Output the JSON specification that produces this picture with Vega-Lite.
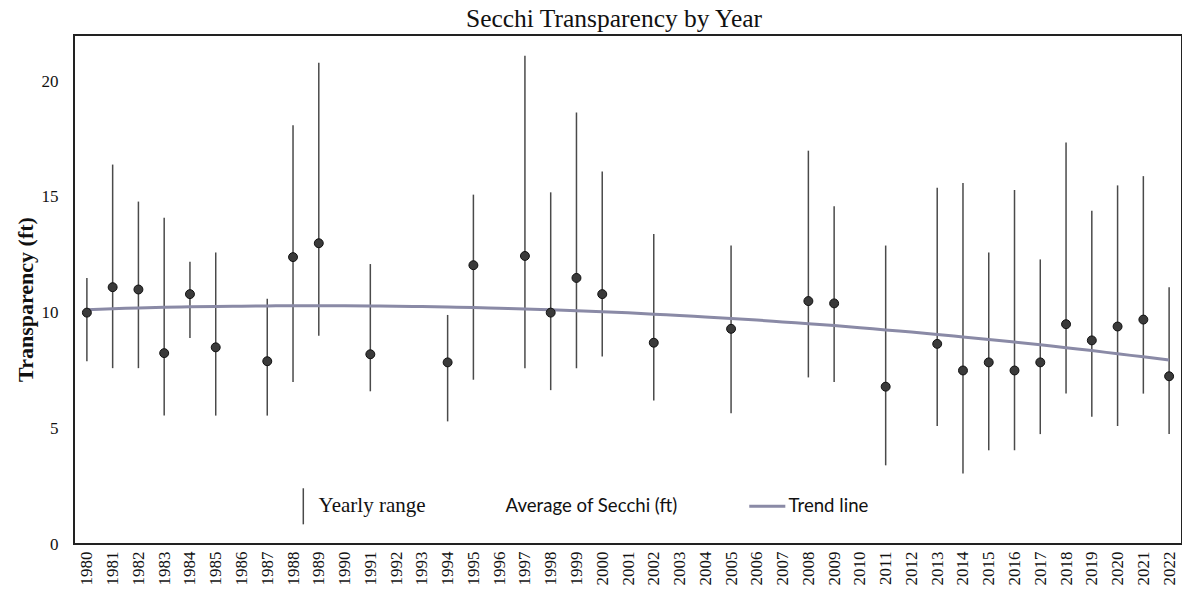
{
  "$schema": "https://vega.github.io/schema/vega-lite/v6.json",
  "autosize": {"type": "none"},
  "padding": {"left": 74, "top": 35, "right": 0, "bottom": 46},
  "width": 1108,
  "height": 509,
  "background": "white",
  "title": {"text": "Secchi Transparency by Year", "font": "Liberation Serif", "fontSize": 25.5, "fontWeight": "normal", "color": "#111", "anchor": "middle", "dx": -14, "offset": 3},
  "config": {
    "view": {"stroke": "#222", "strokeWidth": 2},
    "axis": {"grid": false, "ticks": false, "tickSize": 0, "domain": false, "labelColor": "#111", "titleColor": "#111"}
  },
  "datasets": {
    "obs": [
      {"year": 1980, "avg": 10.0, "min": 7.9, "max": 11.5},
      {"year": 1981, "avg": 11.1, "min": 7.6, "max": 16.4},
      {"year": 1982, "avg": 11.0, "min": 7.6, "max": 14.8},
      {"year": 1983, "avg": 8.25, "min": 5.55, "max": 14.1},
      {"year": 1984, "avg": 10.8, "min": 8.9, "max": 12.2},
      {"year": 1985, "avg": 8.5, "min": 5.55, "max": 12.6},
      {"year": 1987, "avg": 7.9, "min": 5.55, "max": 10.6},
      {"year": 1988, "avg": 12.4, "min": 7.0, "max": 18.1},
      {"year": 1989, "avg": 13.0, "min": 9.0, "max": 20.8},
      {"year": 1991, "avg": 8.2, "min": 6.6, "max": 12.1},
      {"year": 1994, "avg": 7.85, "min": 5.3, "max": 9.9},
      {"year": 1995, "avg": 12.05, "min": 7.1, "max": 15.1},
      {"year": 1997, "avg": 12.45, "min": 7.6, "max": 21.1},
      {"year": 1998, "avg": 10.0, "min": 6.65, "max": 15.2},
      {"year": 1999, "avg": 11.5, "min": 7.6, "max": 18.65},
      {"year": 2000, "avg": 10.8, "min": 8.1, "max": 16.1},
      {"year": 2002, "avg": 8.7, "min": 6.2, "max": 13.4},
      {"year": 2005, "avg": 9.3, "min": 5.65, "max": 12.9},
      {"year": 2008, "avg": 10.5, "min": 7.2, "max": 17.0},
      {"year": 2009, "avg": 10.4, "min": 7.0, "max": 14.6},
      {"year": 2011, "avg": 6.8, "min": 3.4, "max": 12.9},
      {"year": 2013, "avg": 8.65, "min": 5.1, "max": 15.4},
      {"year": 2014, "avg": 7.5, "min": 3.05, "max": 15.6},
      {"year": 2015, "avg": 7.85, "min": 4.05, "max": 12.6},
      {"year": 2016, "avg": 7.5, "min": 4.05, "max": 15.3},
      {"year": 2017, "avg": 7.85, "min": 4.75, "max": 12.3},
      {"year": 2018, "avg": 9.5, "min": 6.5, "max": 17.35},
      {"year": 2019, "avg": 8.8, "min": 5.5, "max": 14.4},
      {"year": 2020, "avg": 9.4, "min": 5.1, "max": 15.5},
      {"year": 2021, "avg": 9.7, "min": 6.5, "max": 15.9},
      {"year": 2022, "avg": 7.25, "min": 4.75, "max": 11.1}
    ],
    "trend": [
      {"year": 1980, "trend": 10.13}, {"year": 1981, "trend": 10.17}, {"year": 1982, "trend": 10.2},
      {"year": 1983, "trend": 10.23}, {"year": 1984, "trend": 10.25}, {"year": 1985, "trend": 10.27},
      {"year": 1986, "trend": 10.28}, {"year": 1987, "trend": 10.29}, {"year": 1988, "trend": 10.3},
      {"year": 1989, "trend": 10.3}, {"year": 1990, "trend": 10.3}, {"year": 1991, "trend": 10.29},
      {"year": 1992, "trend": 10.28}, {"year": 1993, "trend": 10.26}, {"year": 1994, "trend": 10.24},
      {"year": 1995, "trend": 10.22}, {"year": 1996, "trend": 10.19}, {"year": 1997, "trend": 10.16},
      {"year": 1998, "trend": 10.12}, {"year": 1999, "trend": 10.08}, {"year": 2000, "trend": 10.04},
      {"year": 2001, "trend": 9.99}, {"year": 2002, "trend": 9.93}, {"year": 2003, "trend": 9.88},
      {"year": 2004, "trend": 9.81}, {"year": 2005, "trend": 9.75}, {"year": 2006, "trend": 9.68},
      {"year": 2007, "trend": 9.6}, {"year": 2008, "trend": 9.52}, {"year": 2009, "trend": 9.44},
      {"year": 2010, "trend": 9.35}, {"year": 2011, "trend": 9.25}, {"year": 2012, "trend": 9.16},
      {"year": 2013, "trend": 9.06}, {"year": 2014, "trend": 8.95}, {"year": 2015, "trend": 8.84},
      {"year": 2016, "trend": 8.73}, {"year": 2017, "trend": 8.61}, {"year": 2018, "trend": 8.48},
      {"year": 2019, "trend": 8.36}, {"year": 2020, "trend": 8.22}, {"year": 2021, "trend": 8.09},
      {"year": 2022, "trend": 7.95}
    ]
  },
  "encoding": {
    "x": {
      "field": "year", "type": "ordinal", "sort": "ascending",
      "scale": {"type": "point", "padding": 0.5},
      "axis": {"title": null, "labelAngle": -90, "labelFont": "Liberation Serif", "labelFontSize": 17, "labelPadding": 7}
    }
  },
  "layer": [
    {
      "data": {"name": "obs"},
      "mark": {"type": "rule", "strokeWidth": 1.5},
      "encoding": {
        "y": {"field": "min", "type": "quantitative",
          "scale": {"domain": [0, 22], "nice": false},
          "axis": {"values": [0, 5, 10, 15, 20], "title": "Transparency (ft)", "titleFont": "Liberation Serif", "titleFontSize": 22, "titleFontWeight": "bold", "titlePadding": 4, "titleY": 264, "labelFont": "Liberation Serif", "labelFontSize": 17, "labelPadding": 16}},
        "y2": {"field": "max"},
        "color": {"datum": "Yearly range", "type": "nominal",
          "scale": {"domain": ["Yearly range", "Average of Secchi (ft)", "Trend line"], "range": ["#4a4a4a", "#3a3a3a", "#8a8aa6"]},
          "legend": {
            "title": null, "orient": "none", "legendX": 220, "legendY": 462, "direction": "horizontal", "columns": 3,
            "gridAlign": "none", "columnPadding": 46, "padding": 0, "symbolSize": 1300, "labelOffset": 6, "labelLimit": 0,
            "labelFontSize": 18, "labelColor": "#111", "labelFont": "Liberation Serif",
            "labelExpr": "datum.label == 'Average of Secchi (ft)' ? datum.label + '\u2009\u2009\u2800' : datum.label",
            "encode": {
              "symbols": {"update": {
                "shape": {"signal": "datum.value == 'Yearly range' ? 'M0,-1L0,1' : datum.value == 'Trend line' ? 'M-1,0L1,0' : 'circle'"},
                "stroke": {"signal": "datum.value == 'Yearly range' ? '#4a4a4a' : '#8a8aa6'"},
                "strokeWidth": {"signal": "datum.value == 'Trend line' ? 3 : 1.5"},
                "fill": {"value": "transparent"},
                "opacity": {"signal": "datum.value == 'Average of Secchi (ft)' ? 0 : 1"}
              }},
              "labels": {"update": {
                "font": {"signal": "datum.value == 'Yearly range' ? 'Liberation Serif' : 'Lato'"},
                "fontSize": {"signal": "datum.value == 'Yearly range' ? 21 : 18.6"},
                "dx": {"signal": "datum.value == 'Trend line' ? 6 : 0"}
              }}
            }
          }
        }
      }
    },
    {
      "data": {"name": "trend"},
      "mark": {"type": "line", "strokeWidth": 3, "interpolate": "monotone"},
      "encoding": {
        "y": {"field": "trend", "type": "quantitative"},
        "color": {"datum": "Trend line", "type": "nominal"}
      }
    },
    {
      "data": {"name": "obs"},
      "mark": {"type": "point", "filled": true, "size": 80, "stroke": "#111", "strokeWidth": 1, "opacity": 1},
      "encoding": {
        "y": {"field": "avg", "type": "quantitative"},
        "color": {"datum": "Average of Secchi (ft)", "type": "nominal"}
      }
    }
  ]
}
